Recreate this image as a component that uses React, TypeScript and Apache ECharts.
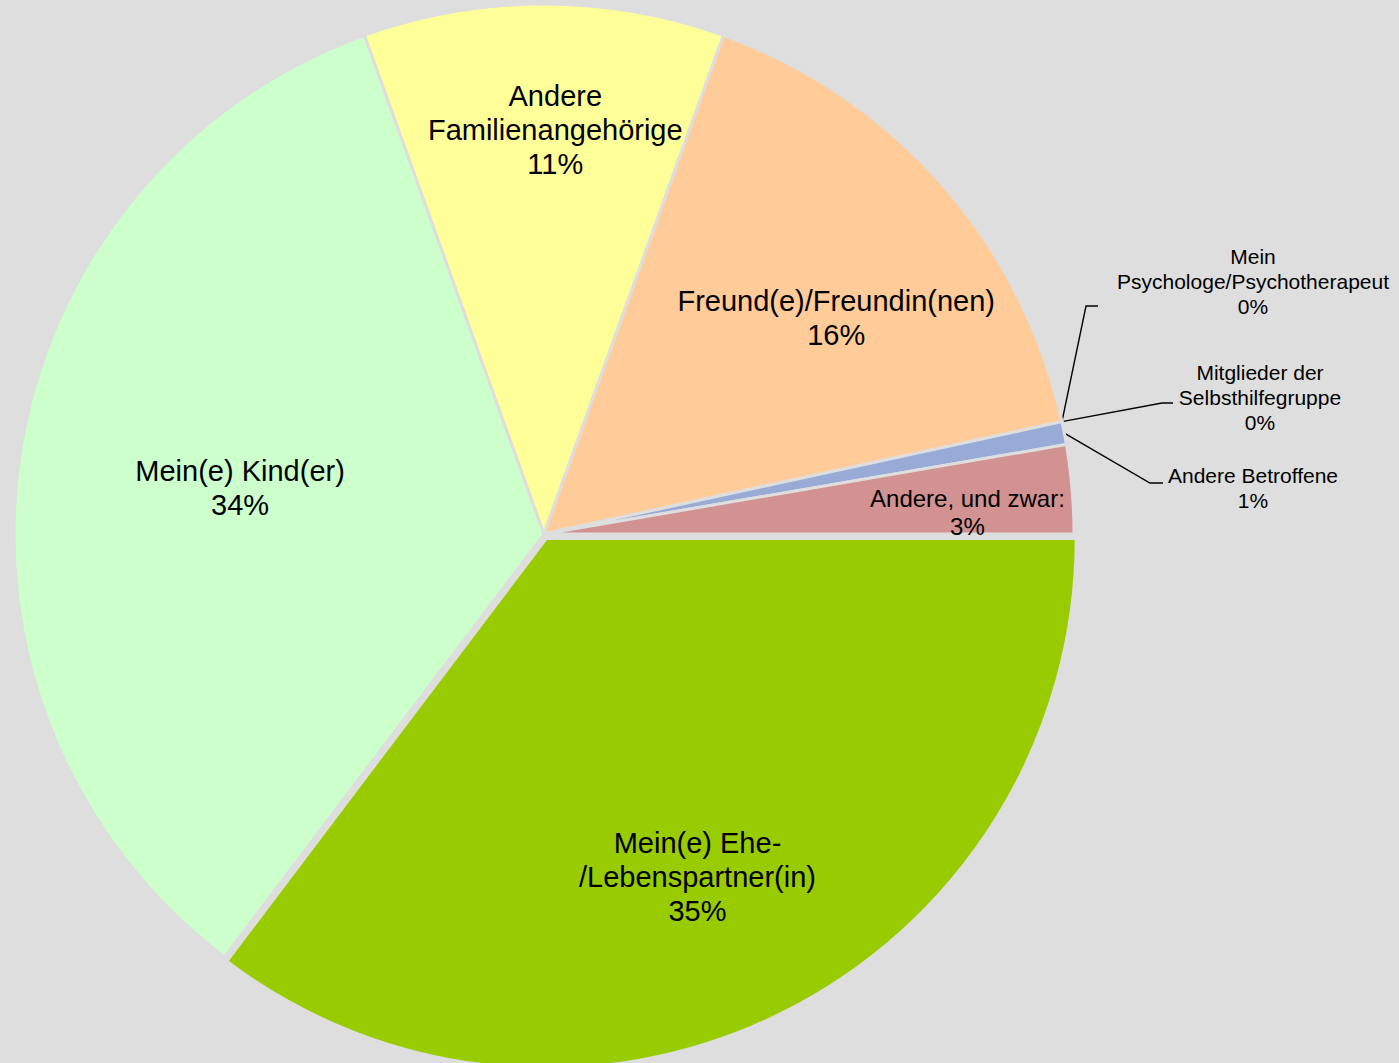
import React, { useEffect, useRef } from "react";
import * as echarts from "echarts";

// ---- data ----
const categories = [
  "Mein(e) Ehe-/Lebenspartner(in)",
  "Mein(e) Kind(er)",
  "Andere Familienangehörige",
  "Freund(e)/Freundin(nen)",
  "Mein Psychologe/Psychotherapeut",
  "Mitglieder der Selbsthilfegruppe",
  "Andere Betroffene",
  "Andere, und zwar:",
];
const labelTexts = [
  "Mein(e) Ehe-\n/Lebenspartner(in)",
  "Mein(e) Kind(er)",
  "Andere\nFamilienangehörige",
  "Freund(e)/Freundin(nen)",
  "Mein\nPsychologe/Psychotherapeut",
  "Mitglieder der\nSelbsthilfegruppe",
  "Andere Betroffene",
  "Andere, und zwar:",
];
const shares = [35.3, 34.2, 11.0, 16.1, 0, 0, 0.7, 2.7];
const exploded = [true, false, false, false, false, false, false, false];

// ---- styles / layout ----
const colors = ["#99cc00", "#ccffcc", "#ffff99", "#ffcc99", "#9999ff", "#993366", "#98aad6", "#d29292"];
const BG = "#dedede";
const CX = 544;
const CY = 534;
const R = 530;
const EXPLODE = 5;
const FONT = "'Liberation Sans', Arial, sans-serif";

type Inside = { kind: "in"; rf: number; da: number; size: number; lh: number };
type Outside = { kind: "out"; x: number; y: number; ex: number; ey: number; endX: number; size: number; lh: number };
const placement: (Inside | Outside)[] = [
  { kind: "in", rf: 0.7, da: 2.4, size: 29, lh: 34 },
  { kind: "in", rf: 0.58, da: 0, size: 29, lh: 34 },
  { kind: "in", rf: 0.762, da: 1.6, size: 29, lh: 34 },
  { kind: "in", rf: 0.686, da: 4.7, size: 29, lh: 34 },
  { kind: "out", x: 1253, y: 281, ex: 1086, ey: 306, endX: 1098, size: 21, lh: 25 },
  { kind: "out", x: 1260, y: 397, ex: 1162, ey: 403, endX: 1173, size: 21, lh: 25 },
  { kind: "out", x: 1253, y: 488, ex: 1150, ey: 483, endX: 1163, size: 21, lh: 25 },
  { kind: "in", rf: 0.8, da: 1.9, size: 24, lh: 28 },
];

const total = shares.reduce((a, b) => a + b, 0);
const midDeg: number[] = [];
{
  let acc = 0;
  shares.forEach((v) => {
    midDeg.push(((acc + v / 2) / total) * 360);
    acc += v;
  });
}

function makeSeries(showExploded: boolean) {
  // offset of the exploded slice(s) along their mid-angle
  const ei = exploded.indexOf(true);
  const et = (midDeg[ei] * Math.PI) / 180;
  const ox = showExploded ? EXPLODE * Math.cos(et) : 0;
  const oy = showExploded ? EXPLODE * Math.sin(et) : 0;
  const cx = CX + ox;
  const cy = CY + oy;
  return {
    type: "pie",
    center: [cx, cy],
    radius: [0, R],
    startAngle: 0,
    clockwise: true,
    avoidLabelOverlap: false,
    silent: true,
    itemStyle: { borderColor: BG, borderWidth: 3 },
    emphasis: { disabled: true },
    label: {
      color: "#000",
      fontFamily: FONT,
      formatter: (p: any) => labelTexts[p.dataIndex] + "\n" + Math.round(p.percent) + "%",
    },
    labelLine: { show: true, smooth: false, lineStyle: { color: "#000", width: 1.4 } },
    labelLayout: (params: any) => {
      const i = params.dataIndex;
      const p = placement[i];
      if (p.kind === "in") {
        const t = ((midDeg[i] + p.da) * Math.PI) / 180;
        return {
          x: cx + p.rf * R * Math.cos(t),
          y: cy + p.rf * R * Math.sin(t),
          align: "center",
          verticalAlign: "middle",
        };
      }
      const t = (midDeg[i] * Math.PI) / 180;
      const sx = cx + R * Math.cos(t);
      const sy = cy + R * Math.sin(t);
      return {
        x: p.x,
        y: p.y,
        align: "center",
        verticalAlign: "middle",
        labelLinePoints: [
          [sx, sy],
          [p.ex, p.ey],
          [p.endX, p.ey],
        ],
      };
    },
    data: categories.map((name, i) => {
      const p = placement[i];
      const visible = exploded[i] === showExploded;
      if (!visible) {
        return {
          name,
          value: shares[i],
          itemStyle: { color: "rgba(0,0,0,0)", borderWidth: 0 },
          label: { show: false },
          labelLine: { show: false },
        };
      }
      return {
        name,
        value: shares[i],
        itemStyle: { color: colors[i] },
        label: {
          show: true,
          position: p.kind === "in" ? "inside" : "outside",
          fontSize: p.size,
          lineHeight: p.lh,
          color: "#000",
          fontFamily: FONT,
        },
        labelLine: { show: p.kind === "out" },
      };
    }),
  };
}

export default function App() {
  const ref = useRef<HTMLDivElement>(null);
  useEffect(() => {
    document.body.style.margin = "0";
    const chart = echarts.init(ref.current!, undefined, { renderer: "svg" });
    const option: any = {
      animation: false,
      backgroundColor: BG,
      series: [makeSeries(false), makeSeries(true)],
    };
    chart.setOption(option);
    return () => chart.dispose();
  }, []);
  return (
    <div
      ref={ref}
      style={{ position: "absolute", left: 0, top: 0, width: 1399, height: 1063 }}
    />
  );
}
